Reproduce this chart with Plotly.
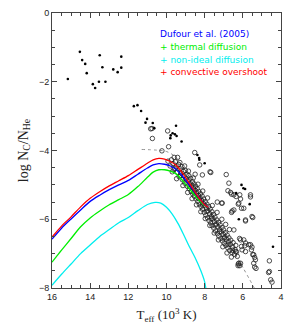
import plotly.graph_objects as go

# ---- data ----
red_T = [16, 15.5, 15, 14.5, 14, 13.5, 13, 12.5, 12, 11.5, 11, 10.7, 10.4, 10.1, 9.8, 9.5, 9.2, 8.9, 8.6, 8.3, 8.0, 7.8]
red_y = [-6.52, -6.2, -5.93, -5.64, -5.39, -5.2, -5.03, -4.88, -4.73, -4.55, -4.37, -4.27, -4.23, -4.25, -4.32, -4.43, -4.62, -4.87, -5.12, -5.38, -5.58, -5.66]

blue_T = [16, 15.5, 15, 14.5, 14, 13.5, 13, 12.5, 12, 11.5, 11, 10.7, 10.4, 10.1, 9.8, 9.5, 9.2, 8.9, 8.6, 8.3, 8.0, 7.8]
blue_y = [-6.58, -6.26, -5.99, -5.73, -5.48, -5.3, -5.14, -5.0, -4.87, -4.69, -4.51, -4.42, -4.38, -4.4, -4.45, -4.55, -4.72, -4.93, -5.15, -5.38, -5.58, -5.66]

green_T = [16, 15.5, 15, 14.5, 14, 13.5, 13, 12.5, 12, 11.5, 11, 10.7, 10.4, 10.1, 9.8, 9.5, 9.2, 8.9, 8.6, 8.3, 8.0, 7.8]
green_y = [-7.25, -6.9, -6.56, -6.22, -5.96, -5.76, -5.58, -5.43, -5.28, -5.05, -4.78, -4.63, -4.56, -4.56, -4.6, -4.68, -4.85, -5.05, -5.25, -5.45, -5.6, -5.66]

cyan_T = [16, 15.5, 15, 14.5, 14, 13.5, 13, 12.5, 12, 11.5, 11, 10.6, 10.3, 10.0, 9.7, 9.4, 9.1, 8.8, 8.5, 8.2, 8.0, 7.94]
cyan_y = [-7.92, -7.6, -7.3, -7.0, -6.75, -6.5, -6.3, -6.1, -5.95, -5.75, -5.57, -5.51, -5.53, -5.65, -5.85, -6.12, -6.45, -6.8, -7.12, -7.5, -7.82, -8.0]

dotted_T = [11.3, 10.5, 10.0, 9.5, 9.0, 8.0, 7.0, 6.0, 5.4]
dotted_y = [-3.97, -3.99, -4.03, -4.2, -4.6, -5.5, -6.45, -7.4, -8.0]

dots_T = [15.17, 14.54, 13.50, 14.42, 14.26, 12.37, 13.36, 12.79, 12.37, 12.56, 14.18, 13.86, 13.74, 13.54, 13.20,
          11.71, 11.52, 11.33, 11.02, 11.10, 10.72, 10.64, 9.50, 9.68, 9.56, 9.47, 9.80, 9.78, 9.21,
          8.38, 8.29, 8.28, 8.00, 6.07, 5.88, 6.35, 5.97, 5.64, 6.21, 4.42]
dots_y = [-1.92, -1.13, -1.23, -1.37, -1.48, -1.27, -1.58, -1.64, -1.59, -1.72, -1.75, -2.07, -2.18, -2.00, -2.00,
          -2.71, -2.68, -2.85, -3.08, -3.19, -3.20, -3.35, -3.28, -3.50, -3.53, -3.58, -3.64, -3.56, -3.74,
          -4.13, -4.22, -4.27, -4.37, -5.00, -5.12, -5.24, -5.10, -5.56, -6.00, -6.80]

circ_T = [9.92, 9.81, 9.74, 9.66, 9.61, 9.53, 9.49, 9.43, 9.37, 9.34, 9.29, 9.24, 9.19, 9.17, 9.11, 9.09, 9.04, 9.01,
          8.97, 8.93, 8.91, 8.86, 8.83, 8.81, 8.77, 8.74, 8.71, 8.68, 8.64, 8.63, 8.59, 8.56, 8.54, 8.51, 8.47, 8.45,
          8.42, 8.39, 8.36, 8.33, 8.31, 8.28, 8.25, 8.22, 8.19, 8.16, 8.13, 8.11, 8.08, 8.05, 8.02, 7.99, 7.97, 7.94,
          7.91, 7.88, 7.85, 7.83, 7.79, 7.77, 7.74, 7.71, 7.68, 7.65, 7.62, 7.61, 7.57, 7.54, 7.52, 7.49, 7.46, 7.43,
          7.39, 7.37, 7.33, 7.31, 7.27, 7.26, 7.21, 7.19, 7.15, 7.13, 7.09, 7.07, 7.03, 7.01, 6.98, 6.95, 6.92, 6.89,
          6.86, 6.82, 6.79, 6.75, 6.73, 6.69, 6.65, 6.63, 6.57, 6.53, 6.51, 6.44, 6.41, 6.37, 6.33, 6.29,
          9.56, 9.26, 9.02, 8.79, 8.57, 8.34, 8.12, 7.89, 7.66, 7.44, 7.22, 6.99, 6.77, 6.55,
          9.70, 9.47, 9.14, 8.89, 8.66, 8.43, 8.20, 7.97, 7.73, 7.50, 7.28, 7.05, 6.83, 6.60,
          9.60, 9.30, 9.05, 8.85, 8.60, 8.35, 8.10, 7.85, 7.60, 7.35, 7.10, 6.90, 6.70,
          10.83, 10.76, 10.74, 9.94, 9.89, 10.24, 9.42, 8.52, 8.26, 8.50, 7.72, 6.87, 8.12, 7.68, 6.73, 6.78, 6.59,
          6.16, 6.12, 7.34, 7.11, 6.24, 5.95, 6.47, 5.48, 5.86, 6.17, 5.86, 5.90, 5.52, 5.43, 5.38, 5.34, 6.24, 6.16,
          5.38, 5.31, 4.61, 4.61, 4.54, 4.47, 6.64, 6.47, 6.35, 5.60, 5.60, 7.08, 6.21, 6.59, 5.52, 5.60, 5.48, 6.12,
          6.25, 4.65, 6.04, 5.86, 5.95, 6.56, 5.86, 6.07, 6.47, 6.12, 6.07, 5.69, 5.55, 5.43, 6.38, 6.21]
circ_y = [-4.31, -4.45, -4.27, -4.38, -4.55, -4.33, -4.47, -4.63, -4.41, -4.76, -4.53, -4.66, -4.47, -4.85, -4.61, -4.74, -4.95, -4.58,
          -4.83, -4.69, -5.04, -4.88, -4.73, -5.11, -4.96, -4.81, -5.19, -5.03, -4.91, -5.26, -5.09, -4.97, -5.33, -5.16, -5.04, -5.41,
          -5.24, -5.11, -5.48, -5.31, -5.19, -5.56, -5.38, -5.26, -5.63, -5.46, -5.33, -5.71, -5.54, -5.41, -5.80, -5.61, -5.49, -5.88,
          -5.69, -5.56, -5.96, -5.76, -5.63, -6.04, -5.84, -5.70, -6.11, -5.92, -5.78, -6.19, -5.99, -5.86, -6.26, -6.07, -5.94, -6.34,
          -6.14, -6.02, -6.42, -6.22, -6.09, -6.49, -6.30, -6.16, -6.56, -6.37, -6.24, -6.63, -6.44, -6.31, -6.70, -6.52, -6.39, -6.76,
          -6.58, -6.46, -6.83, -6.66, -6.54, -6.91, -6.73, -6.61, -6.97, -6.81, -6.68, -7.02, -6.88, -6.76, -6.95, -7.08,
          -4.52, -4.72, -4.86, -5.05, -5.22, -5.39, -5.58, -5.77, -5.98, -6.17, -6.36, -6.55, -6.74, -6.90,
          -4.62, -4.82, -5.02, -5.22, -5.40, -5.58, -5.78, -5.98, -6.18, -6.40, -6.60, -6.80, -6.98, -7.10,
          -4.20, -4.35, -4.45, -4.60, -4.80, -4.98, -5.18, -5.38, -5.60, -5.80, -6.00, -6.15, -6.30,
          -3.37, -3.36, -3.65, -3.43, -3.89, -4.01, -4.20, -4.06, -4.42, -4.69, -4.62, -4.70, -4.71, -4.64, -4.95, -5.17, -5.27,
          -5.29, -5.41, -5.50, -5.53, -5.56, -5.68, -5.73, -5.95, -6.02, -6.56, -6.69, -6.77, -6.81, -7.03, -7.11, -7.18, -7.30, -7.35,
          -7.39, -7.43, -7.21, -7.52, -7.76, -7.83, -5.22, -5.29, -5.34, -5.29, -5.35, -5.53, -5.53, -5.80, -5.92, -6.74, -7.03, -7.28,
          -7.35, -7.55, -6.89, -6.94, -6.60, -5.76, -6.05, -5.68, -6.31, -6.60, -6.79, -6.74, -6.89, -7.28, -6.94, -7.28]

legend_lines = ["Dufour et al. (2005)", "+ thermal diffusion", "+ non-ideal diffusion", "+ convective overshoot"]
legend_colors = ["#0000ff", "#00ee00", "#00eeee", "#ff0000"]

x_ticks = [16, 14, 12, 10, 8, 6, 4]
y_ticks = [0, -2, -4, -6, -8]

fig = go.Figure()

fig.add_trace(go.Scatter(x=dotted_T, y=dotted_y, mode="lines", line_shape="spline",
                         line=dict(color="#777777", width=0.8, dash="dot"), showlegend=False))
fig.add_trace(go.Scatter(x=circ_T, y=circ_y, mode="markers",
                         marker=dict(symbol="circle-open", size=4.5, color="#222222", line=dict(width=0.8)),
                         showlegend=False))
fig.add_trace(go.Scatter(x=dots_T, y=dots_y, mode="markers",
                         marker=dict(symbol="circle", size=2.6, color="black"), showlegend=False))
for T, y, c in [(cyan_T, cyan_y, "#00eeee"), (green_T, green_y, "#00ee00"),
                (blue_T, blue_y, "#0000ff"), (red_T, red_y, "#ff0000")]:
    fig.add_trace(go.Scatter(x=T, y=y, mode="lines", line_shape="spline",
                             line=dict(color=c, width=1.3, smoothing=0.8), showlegend=False))

legend_y = [0.924, 0.876, 0.829, 0.785]
for txt, col, yy in zip(legend_lines, legend_colors, legend_y):
    fig.add_annotation(x=0.463, y=yy, xref="paper", yref="paper", text=txt,
                       showarrow=False, xanchor="left", yanchor="middle",
                       font=dict(family="DejaVu Sans", size=9, color=col))

axis_common = dict(showgrid=False, zeroline=False, showline=True, linecolor="#444444", linewidth=1,
                   mirror="allticks", ticks="inside", ticklen=5, tickwidth=0.8, tickcolor="#444444",
                   tickfont=dict(family="Liberation Sans, Arial", size=9, color="#222222"))

fig.update_xaxes(range=[16, 4], tickvals=x_ticks, ticktext=[str(v) for v in x_ticks],
                 minor=dict(dtick=0.5, ticklen=3, ticks="inside", tickcolor="#444444", tickwidth=0.8),
                 title=dict(text="T<sub>eff</sub> (10<sup>3</sup> K)", standoff=9,
                            font=dict(family="Liberation Serif, Times New Roman", size=13, color="#222222")),
                 **axis_common)
fig.update_yaxes(range=[-8, 0], tickvals=y_ticks, ticktext=[str(v).replace("-", "\u2212") for v in y_ticks],
                 minor=dict(dtick=0.5, ticklen=3, ticks="inside", tickcolor="#444444", tickwidth=0.8),
                 title=dict(text="log N<sub>C</sub>/N<sub>He</sub>", standoff=7,
                            font=dict(family="Liberation Serif, Times New Roman", size=14, color="#222222")),
                 **axis_common)

fig.update_layout(width=291, height=322, margin=dict(l=44, r=18, t=5, b=42, autoexpand=False),
                  plot_bgcolor="white", paper_bgcolor="white", showlegend=False)

fig.write_html("out.html")
